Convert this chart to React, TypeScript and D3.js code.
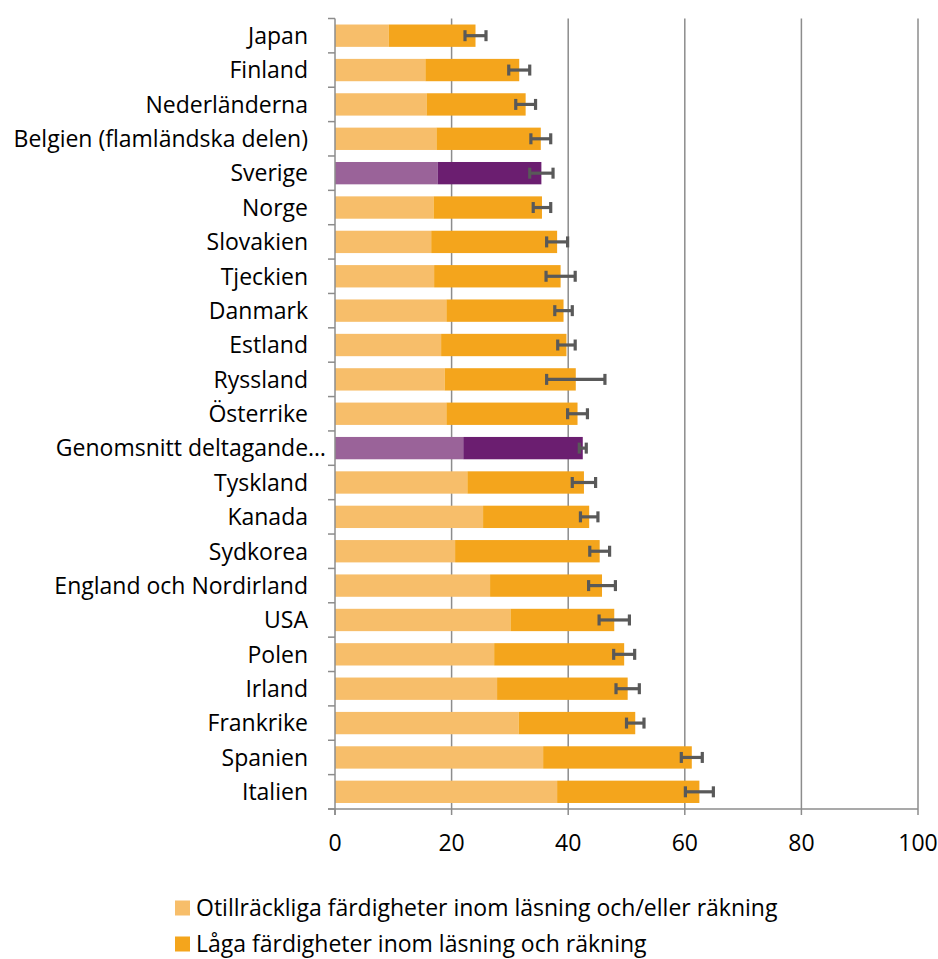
import React from "react";
import * as d3 from "d3";

const categories = [
  "Japan", "Finland", "Nederländerna", "Belgien (flamländska delen)", "Sverige", "Norge",
  "Slovakien", "Tjeckien", "Danmark", "Estland", "Ryssland", "Österrike",
  "Genomsnitt deltagande…", "Tyskland", "Kanada", "Sydkorea", "England och Nordirland",
  "USA", "Polen", "Irland", "Frankrike", "Spanien", "Italien",
];
// Otillräckliga färdigheter inom läsning och/eller räkning
const insufficient = [9.2, 15.5, 15.7, 17.4, 17.6, 16.9, 16.5, 17.0, 19.1, 18.2, 18.8, 19.1, 22.0, 22.7, 25.4, 20.6, 26.6, 30.1, 27.3, 27.8, 31.5, 35.7, 38.1];
// Låga färdigheter inom läsning och räkning
const low = [14.9, 16.1, 17.0, 17.9, 17.8, 18.6, 21.6, 21.7, 20.1, 21.5, 22.5, 22.5, 20.5, 20.0, 18.2, 24.8, 19.2, 17.8, 22.3, 22.4, 20.0, 25.5, 24.4];
const errors = [1.8, 1.8, 1.7, 1.7, 2.0, 1.5, 1.8, 2.5, 1.5, 1.5, 5.0, 1.7, 0.6, 2.0, 1.5, 1.7, 2.3, 2.6, 1.8, 2.0, 1.5, 1.8, 2.4];
const highlighted = ["Sverige", "Genomsnitt deltagande…"];
const xTicks = [0, 20, 40, 60, 80, 100];
const legendLabels = [
  "Otillräckliga färdigheter inom läsning och/eller räkning",
  "Låga färdigheter inom läsning och räkning",
];

const COLORS = {
  light: "#F7BE6A",
  dark: "#F4A51C",
  lightHi: "#9A6399",
  darkHi: "#6B1E70",
  grid: "#8C8C8C",
  err: "#595959",
};

const FONT = "'Open Sans', sans-serif";
const FS = 23;

export default function App() {
  const W = 938, H = 959;
  const left = 335, right = 918, top = 18.5, bottom = 809;
  const x = d3.scaleLinear().domain([0, 100]).range([left, right]);
  const y = d3.scaleBand<string>().domain(categories).range([top, bottom]).paddingInner(0.35).paddingOuter(0.175);
  const step = y.step();
  const bw = y.bandwidth();

  const rows = categories.map((c, i) => ({
    c,
    a: insufficient[i],
    b: low[i],
    e: errors[i],
    hi: highlighted.includes(c),
  }));

  return (
    <svg width={W} height={H} style={{ display: "block", position: "absolute", left: 0, top: 0 }} fontFamily={FONT}>
      <rect width={W} height={H} fill="#fff" />
      {/* gridlines */}
      {xTicks.filter(t => t > 0).map(t => (
        <line key={"g" + t} x1={x(t)} x2={x(t)} y1={top} y2={bottom} stroke={COLORS.grid} strokeWidth={1.5} />
      ))}
      {/* bars */}
      {rows.map(r => {
        const y0 = y(r.c)!;
        const total = r.a + r.b;
        const cy = y0 + bw / 2;
        return (
          <g key={r.c}>
            <rect x={x(0)} y={y0} width={x(r.a) - x(0)} height={bw} fill={r.hi ? COLORS.lightHi : COLORS.light} />
            <rect x={x(r.a)} y={y0} width={x(total) - x(r.a)} height={bw} fill={r.hi ? COLORS.darkHi : COLORS.dark} />
            <g stroke={COLORS.err} strokeWidth={3.2}>
              <line x1={x(total - r.e)} x2={x(total + r.e)} y1={cy} y2={cy} />
              <line x1={x(total - r.e)} x2={x(total - r.e)} y1={cy - 5.5} y2={cy + 5.5} />
              <line x1={x(total + r.e)} x2={x(total + r.e)} y1={cy - 5.5} y2={cy + 5.5} />
            </g>
          </g>
        );
      })}
      {/* y axis */}
      <line x1={x(0)} x2={x(0)} y1={top} y2={bottom + 6} stroke={COLORS.grid} strokeWidth={1.5} />
      {d3.range(categories.length + 1).map(i => (
        <line key={"yt" + i} x1={x(0) - 7} x2={x(0)} y1={top + i * step} y2={top + i * step} stroke={COLORS.grid} strokeWidth={1.5} />
      ))}
      {rows.map(r => (
        <text key={"l" + r.c} x={r.c.endsWith("…") ? 326 : 308} y={y(r.c)! + bw / 2} dy="0.36em" textAnchor="end" fontSize={FS} fill="#000">
          {r.c}
        </text>
      ))}
      {/* x axis */}
      <line x1={x(0) - 7} x2={x(100)} y1={bottom} y2={bottom} stroke={COLORS.grid} strokeWidth={1.5} />
      {xTicks.map(t => (
        <g key={"xt" + t}>
          <line x1={x(t)} x2={x(t)} y1={bottom} y2={bottom + 6} stroke={COLORS.grid} strokeWidth={1.5} />
          <text x={x(t)} y={bottom + 34} dy="0.36em" textAnchor="middle" fontSize={FS} fill="#000">{t}</text>
        </g>
      ))}
      {/* legend */}
      {legendLabels.map((l, i) => (
        <g key={"lg" + i} transform={`translate(175, ${908 + i * 36})`}>
          <rect x={0} y={-7.5} width={15} height={15} fill={i === 0 ? COLORS.light : COLORS.dark} />
          <text x={21} y={0} dy="0.36em" fontSize={FS} fill="#000">{l}</text>
        </g>
      ))}
    </svg>
  );
}
